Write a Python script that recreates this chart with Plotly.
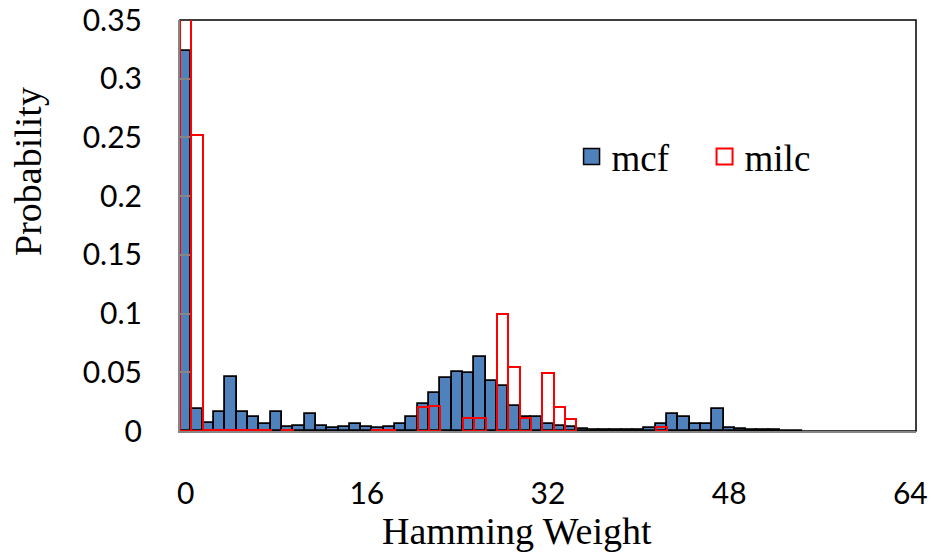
import plotly.graph_objects as go

hamming_weight = list(range(65))

mcf = [0.324, 0.019, 0.007, 0.016, 0.046, 0.016, 0.012, 0.006, 0.016, 0.003,
       0.0045, 0.0145, 0.004, 0.0026, 0.003, 0.0057, 0.0037, 0.0026, 0.003, 0.006,
       0.0117, 0.023, 0.0326, 0.045, 0.0505, 0.049, 0.063, 0.0426, 0.038, 0.0216,
       0.0117, 0.0117, 0.0057, 0.0045, 0.0034, 0.002, 0.0012, 0.0008, 0.0005, 0.0005,
       0.0008, 0.0028, 0.0057, 0.0147, 0.0117, 0.0062, 0.0062, 0.0187, 0.0028, 0.0014,
       0.0005, 0.0005, 0.0005, 0.0004, 0.0003, None, None, None, None, None,
       None, None, None, None, None]

milc = [0.45, 0.252, 0.001, 0.001, 0.001, 0.001, 0.001, 0.001, None, 0.001,
        None, None, None, None, None, None, None, 0.001, 0.0005, None,
        None, 0.0207, 0.021, None, None, 0.0108, 0.0108, None, 0.0994, 0.0548,
        0.0108, None, 0.0497, 0.0205, 0.010, None, None, None, None, None,
        None, None, 0.003, None, None, None, None, None, None, None,
        None, None, None, None, None, None, None, None, None, None,
        None, None, None, None, None]

x_ticks = [0, 16, 32, 48, 64]
y_ticks = [0, 0.05, 0.1, 0.15, 0.2, 0.25, 0.3, 0.35]
y_tick_text = ["0", "0.05", "0.1", "0.15", "0.2", "0.25", "0.3", "0.35"]

BLUE = "#4F81BD"
RED = "#FF0000"
GRAY = "#868686"
SERIF = "Liberation Serif, Times New Roman, serif"
SANS = "Lato, Open Sans, sans-serif"

fig = go.Figure()
fig.add_trace(go.Bar(x=hamming_weight, y=mcf, width=1, name="mcf",
                     marker=dict(color=BLUE, line=dict(color="black", width=1.8)),
                     showlegend=False))
fig.add_trace(go.Bar(x=hamming_weight, y=milc, width=1, name="milc",
                     marker=dict(color="rgba(0,0,0,0)", line=dict(color=RED, width=2)),
                     showlegend=False))
# legend entries
fig.add_trace(go.Scatter(x=[None], y=[None], mode="markers", name="mcf",
                         marker=dict(symbol="square", size=16, color=BLUE,
                                     line=dict(color="black", width=1.5))))
fig.add_trace(go.Scatter(x=[None], y=[None], mode="markers", name="milc",
                         marker=dict(symbol="square", size=16, color="white",
                                     line=dict(color=RED, width=2))))

fig.update_layout(
    width=933, height=552,
    margin=dict(l=180, r=17, t=20, b=121, autoexpand=False),
    paper_bgcolor="white", plot_bgcolor="white",
    barmode="overlay", bargap=0,
    legend=dict(orientation="h", x=0.532, xanchor="left", y=0.667, yanchor="middle",
                font=dict(family=SERIF, size=37, color="black"),
                bgcolor="rgba(0,0,0,0)", entrywidth=88, itemwidth=30),
    xaxis=dict(range=[-0.5, 64.5], tickvals=x_ticks, ticks="", automargin=False,
               showgrid=False, zeroline=False, showline=True, linecolor=GRAY, linewidth=2,
               mirror=False, ticklabelstandoff=35,
               tickfont=dict(family=SANS, size=30, color="black")),
    yaxis=dict(range=[0, 0.35], tickvals=y_ticks, ticktext=y_tick_text, automargin=False,
               ticks="inside", ticklen=10, tickcolor=GRAY, tickwidth=2,
               showgrid=False, zeroline=False, showline=True, linecolor=GRAY, linewidth=2,
               ticklabelstandoff=30,
               tickfont=dict(family=SANS, size=30, color="black")),
    shapes=[dict(type="rect", xref="paper", yref="paper", x0=0, x1=1, y0=0, y1=1,
                 line=dict(color="black", width=1.5), layer="below")],
    annotations=[
        dict(text="Hamming Weight", xref="paper", yref="paper", x=(517 - 180) / 736,
             y=-(531 - 431) / 411, xanchor="center", yanchor="middle", showarrow=False,
             font=dict(family=SERIF, size=38, color="black")),
        dict(text="Probability", xref="paper", yref="paper", x=-(180 - 28) / 736,
             y=(431 - 172) / 411, xanchor="center", yanchor="middle", showarrow=False,
             textangle=-90, font=dict(family=SERIF, size=38, color="black")),
    ],
)

fig.write_html("out.html")
